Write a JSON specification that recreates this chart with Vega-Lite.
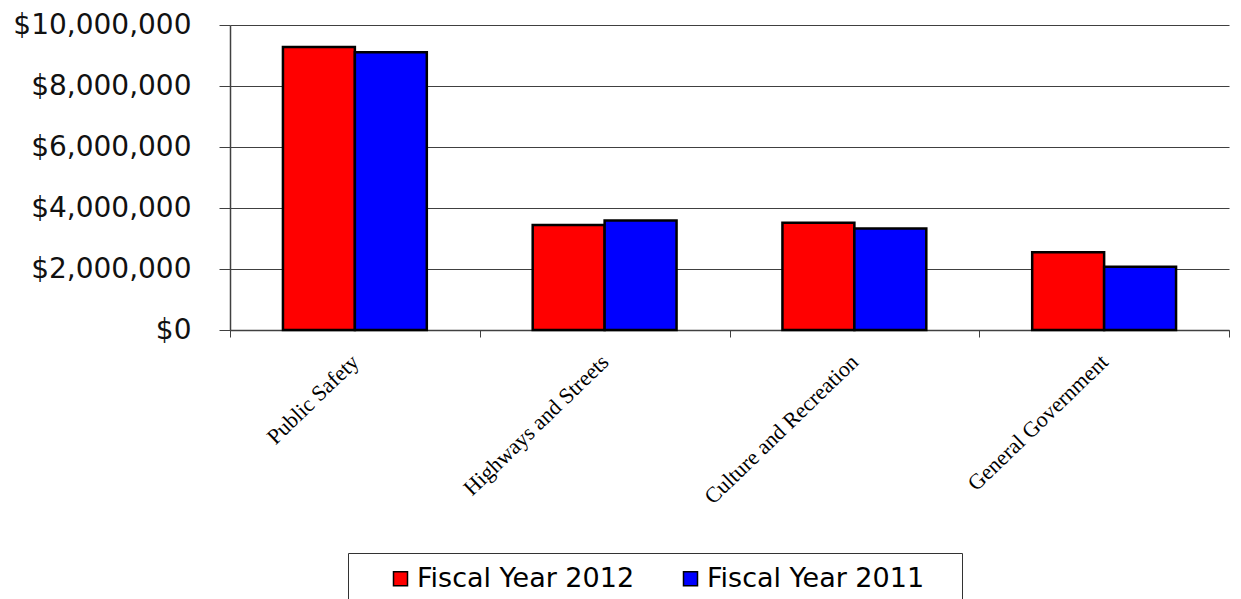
{
  "$schema": "https://vega.github.io/schema/vega-lite/v6.json",
  "width": 999,
  "height": 305,
  "autosize": {"type": "none"},
  "padding": {"left": 230, "top": 25, "right": 12, "bottom": 269},
  "background": "white",
  "data": {
    "values": [
      {"category": "Public Safety", "year": "Fiscal Year 2012", "amount": 9280000},
      {"category": "Public Safety", "year": "Fiscal Year 2011", "amount": 9110000},
      {"category": "Highways and Streets", "year": "Fiscal Year 2012", "amount": 3440000},
      {"category": "Highways and Streets", "year": "Fiscal Year 2011", "amount": 3590000},
      {"category": "Culture and Recreation", "year": "Fiscal Year 2012", "amount": 3520000},
      {"category": "Culture and Recreation", "year": "Fiscal Year 2011", "amount": 3330000},
      {"category": "General Government", "year": "Fiscal Year 2012", "amount": 2550000},
      {"category": "General Government", "year": "Fiscal Year 2011", "amount": 2070000}
    ]
  },
  "mark": {"type": "bar", "stroke": "black", "strokeWidth": 2.5},
  "encoding": {
    "x": {
      "field": "category",
      "type": "nominal",
      "sort": null,
      "scale": {"paddingInner": 0, "paddingOuter": 0},
      "axis": {
        "title": null,
        "tickBand": "extent",
        "tickSize": 7,
        "tickColor": "#404040",
        "domainColor": "#404040",
        "domainWidth": 1.5,
        "labelAngle": -44,
        "labelAlign": "right",
        "labelBaseline": "middle",
        "labelPadding": 21,
        "labelFont": "Liberation Serif",
        "labelFontSize": 22,
        "labelColor": "black",
        "labelLimit": 400,
        "grid": false
      }
    },
    "xOffset": {
      "field": "year",
      "type": "nominal",
      "sort": ["Fiscal Year 2012", "Fiscal Year 2011"],
      "scale": {"paddingInner": 0, "paddingOuter": 0.736}
    },
    "y": {
      "field": "amount",
      "type": "quantitative",
      "scale": {"domain": [0, 10000000], "nice": false},
      "axis": {
        "title": null,
        "values": [0, 2000000, 4000000, 6000000, 8000000, 10000000],
        "format": "$,.0f",
        "tickSize": 11,
        "tickColor": "#404040",
        "domainColor": "#404040",
        "domainWidth": 1.5,
        "gridColor": "#404040",
        "gridWidth": 1.2,
        "labelFont": "DejaVu Sans",
        "labelFontSize": 28,
        "labelColor": "#111",
        "labelPadding": 28,
        "labelLimit": 300
      }
    },
    "color": {
      "field": "year",
      "type": "nominal",
      "sort": ["Fiscal Year 2012", "Fiscal Year 2011"],
      "scale": {"domain": ["Fiscal Year 2012", "Fiscal Year 2011"], "range": ["#ff0000", "#0000ff"]},
      "legend": {
        "title": null,
        "orient": "none",
        "legendX": 118,
        "legendY": 528,
        "direction": "horizontal",
        "padding": 12,
        "strokeColor": "#333333",
        "fillColor": "white",
        "symbolType": "square",
        "symbolSize": 196,
        "symbolStrokeColor": "black",
        "symbolStrokeWidth": 1.5,
        "symbolOffset": 27,
        "labelOffset": 3,
        "labelFont": "DejaVu Sans",
        "labelFontSize": 27,
        "labelColor": "black",
        "labelLimit": 400,
        "labelExpr": "datum.value == 'Fiscal Year 2011' ? datum.label + '   \u200b' : datum.label",
        "columnPadding": 15
      }
    }
  },
  "config": {
    "view": {"stroke": null}
  }
}
